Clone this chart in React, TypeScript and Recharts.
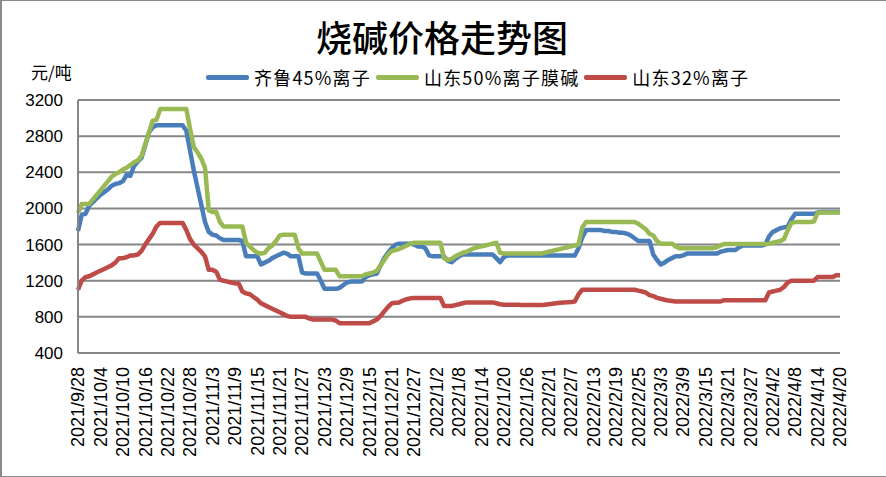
import React from "react";
import { LineChart, Line, XAxis, YAxis, CartesianGrid } from "recharts";

// Daily categories from 2021/9/28 to 2022/4/20 (205 days)
const startDate = [2021, 8, 28];
const dayCount = 205;
const dates: string[] = [];
for (let i = 0; i < dayCount; i++) {
  const d = new Date(startDate[0], startDate[1], startDate[2] + i);
  dates.push(`${d.getFullYear()}/${d.getMonth() + 1}/${d.getDate()}`);
}

const yTicks = [400, 800, 1200, 1600, 2000, 2400, 2800, 3200];

const seriesNames = ["齐鲁45%离子", "山东50%离子膜碱", "山东32%离子"];

// 齐鲁45%离子
const qilu45 = [
  1750, 1930, 1940, 2030, 2070, 2110, 2150, 2180, 2210, 2250,
  2270, 2280, 2300, 2370, 2360, 2470, 2520, 2560, 2700, 2840,
  2900, 2920, 2920, 2920, 2920, 2920, 2920, 2920, 2920, 2860,
  2640, 2420, 2230, 2040, 1850, 1740, 1710, 1700, 1670, 1650,
  1650, 1650, 1650, 1650, 1640, 1470, 1470, 1470, 1470, 1380,
  1400, 1420, 1450, 1470, 1490, 1510, 1500, 1470, 1470, 1470,
  1290, 1280, 1280, 1280, 1280, 1200, 1110, 1110, 1110, 1110,
  1120, 1150, 1180, 1190, 1190, 1190, 1190, 1240, 1260, 1270,
  1280, 1370, 1450, 1510, 1560, 1600, 1610, 1610, 1610, 1610,
  1600, 1580, 1580, 1560, 1480, 1470, 1470, 1470, 1470, 1420,
  1405, 1440, 1470, 1490, 1490, 1490, 1490, 1490, 1490, 1490,
  1490, 1490, 1450, 1405, 1460, 1480, 1480, 1480, 1480, 1480,
  1480, 1480, 1480, 1480, 1480, 1480, 1480, 1480, 1480, 1480,
  1480, 1480, 1480, 1480, 1560, 1680, 1760, 1760, 1760, 1760,
  1760, 1750, 1750, 1740, 1740, 1730, 1730, 1720, 1700, 1670,
  1640, 1640, 1640, 1640, 1490, 1430, 1380, 1400, 1430, 1450,
  1470, 1470, 1480, 1500, 1500, 1500, 1500, 1500, 1500, 1500,
  1500, 1500, 1520, 1530, 1540, 1540, 1540, 1570, 1590, 1590,
  1590, 1590, 1590, 1590, 1600, 1690, 1740, 1760, 1780, 1790,
  1800, 1880, 1940, 1940, 1940, 1940, 1940, 1940, 1955, 1960,
  1960, 1960, 1960, 1960, 1960,
];

// 山东50%离子膜碱
const shandong50 = [
  1950, 2050, 2050, 2050, 2100, 2150, 2200, 2250, 2300, 2350,
  2380, 2400, 2430, 2450, 2480, 2510, 2530, 2580, 2710, 2840,
  2970, 2980, 3100, 3100, 3100, 3100, 3100, 3100, 3100, 3100,
  2880, 2680, 2620, 2550, 2450, 1980, 1960, 1960, 1850, 1800,
  1800, 1800, 1800, 1800, 1800, 1620, 1580, 1540, 1510, 1500,
  1510, 1560, 1590, 1640, 1700, 1710, 1710, 1710, 1710, 1560,
  1500, 1500, 1500, 1500, 1500, 1410, 1320, 1320, 1320, 1320,
  1250, 1250, 1250, 1250, 1250, 1250, 1250, 1270, 1280, 1290,
  1310, 1370, 1430, 1490, 1530, 1540, 1550, 1570, 1590, 1610,
  1620, 1620, 1620, 1620, 1620, 1620, 1620, 1620, 1450, 1430,
  1440, 1470, 1490, 1510, 1520, 1540, 1560, 1570, 1580, 1590,
  1600, 1610, 1620, 1510, 1500, 1500, 1500, 1500, 1500, 1500,
  1500, 1500, 1500, 1500, 1500, 1510, 1520, 1530, 1540, 1550,
  1560, 1570, 1580, 1590, 1600, 1790, 1850, 1850, 1850, 1850,
  1850, 1850, 1850, 1850, 1850, 1850, 1850, 1850, 1850, 1850,
  1830, 1800, 1770, 1720, 1700, 1640, 1610, 1610, 1610, 1610,
  1580, 1560, 1560, 1560, 1560, 1560, 1560, 1560, 1560, 1560,
  1560, 1570, 1590, 1605, 1605, 1605, 1605, 1605, 1605, 1605,
  1605, 1605, 1605, 1605, 1605, 1610, 1620, 1630, 1640, 1660,
  1760, 1840, 1850, 1850, 1850, 1850, 1850, 1855, 1950, 1955,
  1955, 1955, 1955, 1955, 1955,
];

// 山东32%离子
const shandong32 = [
  1100, 1200, 1240, 1250, 1270, 1290, 1310, 1330, 1350, 1370,
  1400, 1450, 1450, 1460, 1480, 1480, 1490, 1530, 1600, 1660,
  1720, 1800, 1840, 1840, 1840, 1840, 1840, 1840, 1840, 1760,
  1660, 1600, 1560, 1520, 1470, 1320, 1320, 1300, 1210, 1200,
  1190, 1180, 1170, 1170, 1080, 1060, 1050, 1020, 990, 950,
  930, 910, 890, 870, 850, 830, 810, 800, 800, 800,
  800, 800, 780, 770, 770, 770, 770, 770, 770, 760,
  730, 730, 730, 730, 730, 730, 730, 730, 730, 750,
  770, 810, 860, 910, 950, 955, 960, 980, 995, 1005,
  1010, 1010, 1010, 1010, 1010, 1010, 1010, 1010, 920, 920,
  920, 930, 940, 950, 960, 960, 960, 960, 960, 960,
  960, 960, 950, 940, 935, 935, 935, 935, 935, 930,
  930, 930, 930, 930, 930, 935, 940, 945, 950, 955,
  960, 962, 965, 970, 1050, 1100, 1100, 1100, 1100, 1100,
  1100, 1100, 1100, 1100, 1100, 1100, 1100, 1100, 1100, 1100,
  1090, 1080, 1070, 1040, 1030, 1010, 1000, 990, 980, 975,
  970, 970, 970, 970, 970, 970, 970, 970, 970, 970,
  970, 970, 970, 985, 985, 985, 985, 985, 985, 985,
  985, 985, 985, 985, 985, 1070, 1080, 1090, 1100, 1130,
  1180, 1200, 1200, 1200, 1200, 1200, 1200, 1200, 1240, 1240,
  1240, 1240, 1240, 1260, 1260,
];

const colors = ["#4A7EBB", "#98B954", "#BE4B48"];
const keys = ["qilu45", "shandong50", "shandong32"];

const data = dates.map((date, i) => ({
  date,
  qilu45: qilu45[i],
  shandong50: shandong50[i],
  shandong32: shandong32[i],
}));

const GRID = "#868686";
const LATIN = "'Liberation Sans', Arial, sans-serif";
const CJK = "'Noto Sans CJK SC', 'Noto Sans', sans-serif";

const YTick = (props: any) => {
  const { x, y, payload } = props;
  return (
    <text x={x} y={y} dy="0.35em" textAnchor="end" fontSize={17} fontFamily={LATIN} fill="#000">
      {payload.value}
    </text>
  );
};

const XTick = (props: any) => {
  const { x, y, payload } = props;
  return (
    <g transform={`translate(${x},${y})`}>
      <text transform="rotate(-90)" textAnchor="end" dy="0.35em" fontSize={18} fontFamily={LATIN} fill="#000">
        {payload.value}
      </text>
    </g>
  );
};

export default function App() {
  return (
    <div style={{ position: "absolute", left: 0, top: 0, width: 886, height: 477, background: "#fff" }}>
      <LineChart width={886} height={477} data={data} margin={{ top: 100, right: 46, bottom: 0, left: 0 }}>
        <CartesianGrid vertical={false} stroke={GRID} strokeWidth={2} />
        <XAxis
          dataKey="date"
          interval={5}
          tickLine={false}
          tickSize={0}
          tickMargin={14}
          height={124}
          axisLine={{ stroke: GRID, strokeWidth: 2 }}
          tick={<XTick />}
        />
        <YAxis
          width={78}
          domain={[400, 3200]}
          ticks={yTicks}
          interval={0}
          tickLine={false}
          tickSize={0}
          tickMargin={15}
          axisLine={{ stroke: GRID, strokeWidth: 2 }}
          tick={<YTick />}
        />
        {keys.map((k, i) => (
          <Line
            key={k}
            type="linear"
            dataKey={k}
            name={seriesNames[i]}
            stroke={colors[i]}
            strokeWidth={4.5}
            strokeLinejoin="round"
            dot={false}
            activeDot={false}
            isAnimationActive={false}
          />
        ))}
      </LineChart>
      <div
        style={{
          position: "absolute",
          left: 0,
          top: 17,
          width: 884,
          textAlign: "center",
          fontSize: 36,
          lineHeight: "38px",
          fontFamily: CJK,
          fontWeight: 500,
          color: "#000",
        }}
      >
        烧碱价格走势图
      </div>
      <div
        style={{
          position: "absolute",
          left: 31,
          top: 61,
          fontSize: 17,
          lineHeight: "22px",
          fontFamily: CJK,
          color: "#000",
        }}
      >
        元/吨
      </div>
      <div
        style={{
          position: "absolute",
          left: 206,
          top: 66,
          height: 22,
          display: "flex",
          alignItems: "center",
          fontFamily: CJK,
          fontSize: 18,
          letterSpacing: "1.2px",
          color: "#000",
          whiteSpace: "nowrap",
        }}
      >
        {seriesNames.map((n, i) => (
          <div key={n} style={{ display: "flex", alignItems: "center", marginRight: 5 }}>
            <div style={{ width: 43, height: 5, borderRadius: 2, background: colors[i], marginRight: 5 }} />
            <span style={{ lineHeight: "22px" }}>{n}</span>
          </div>
        ))}
      </div>
      <div
        style={{
          position: "absolute",
          left: 0,
          top: 0,
          width: 884,
          height: 475,
          border: "2px solid #8a8a8a",
          borderWidth: "1px 2px 2px 2px",
          boxSizing: "content-box",
          pointerEvents: "none",
        }}
      />
    </div>
  );
}
